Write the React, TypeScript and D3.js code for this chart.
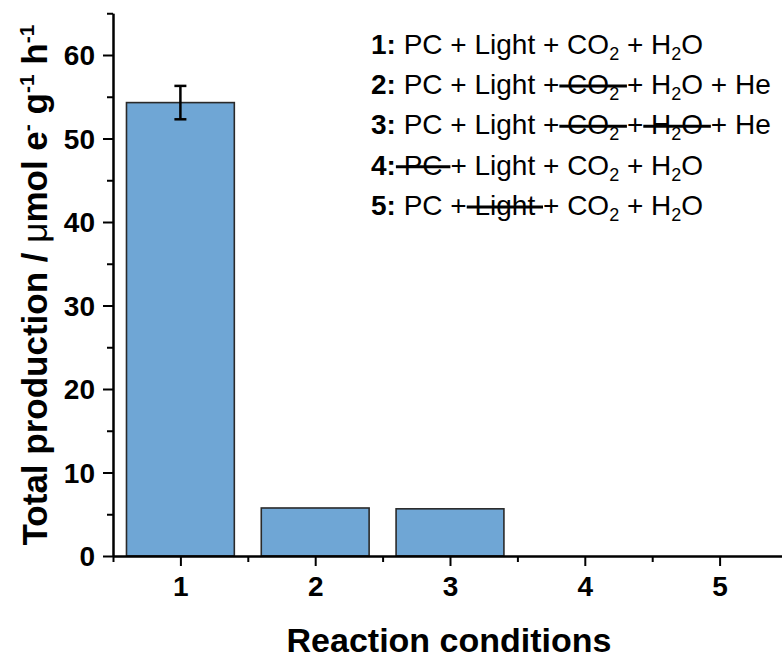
import React, { useEffect, useRef } from "react";
import * as d3 from "d3";

// Reaction conditions (x categories) and measured production
const categories = ["1", "2", "3", "4", "5"];
const production = [54.3, 5.75, 5.65, 0, 0];
const productionError = [2.0, 0, 0, 0, 0];
const yMajorTicks = [0, 10, 20, 30, 40, 50, 60];
const yMinorTicks = [5, 15, 25, 35, 45, 55, 65];
const xMinorTicks = [0.5, 1.5, 2.5, 3.5, 4.5, 5.5];

type Token = { text: string; bold?: boolean; sub?: boolean; strike?: boolean };

// Legend lines: condition number, reagents; struck-through parts are absent
const legendLines: Token[][] = [
  [
    { text: "1:", bold: true },
    { text: " PC + Light + CO" },
    { text: "2", sub: true },
    { text: " + H" },
    { text: "2", sub: true },
    { text: "O" },
  ],
  [
    { text: "2:", bold: true },
    { text: " PC + Light +" },
    { text: " CO", strike: true },
    { text: "2", sub: true, strike: true },
    { text: " ", strike: true },
    { text: "+ H" },
    { text: "2", sub: true },
    { text: "O + He" },
  ],
  [
    { text: "3:", bold: true },
    { text: " PC + Light +" },
    { text: " CO", strike: true },
    { text: "2", sub: true, strike: true },
    { text: " ", strike: true },
    { text: "+" },
    { text: " H", strike: true },
    { text: "2", sub: true, strike: true },
    { text: "O ", strike: true },
    { text: "+ He" },
  ],
  [
    { text: "4:", bold: true },
    { text: " PC ", strike: true },
    { text: "+ Light + CO" },
    { text: "2", sub: true },
    { text: " + H" },
    { text: "2", sub: true },
    { text: "O" },
  ],
  [
    { text: "5:", bold: true },
    { text: " PC +" },
    { text: " Light ", strike: true },
    { text: "+ CO" },
    { text: "2", sub: true },
    { text: " + H" },
    { text: "2", sub: true },
    { text: "O" },
  ],
];

const W = 782;
const H = 659;
const FONT = "Arial, 'Liberation Sans', Helvetica, sans-serif";

export default function App() {
  const ref = useRef<SVGSVGElement | null>(null);

  useEffect(() => {
    const svg = d3.select(ref.current);
    svg.selectAll("*").remove();

    const x = d3.scaleLinear().domain([0.5, 5.5]).range([113, 787]);
    const y = d3.scaleLinear().domain([0, 65]).range([556, 13.25]);
    const barHalf = 0.4;

    // Bars
    svg
      .append("g")
      .selectAll("rect")
      .data(production)
      .join("rect")
      .attr("x", (_, i) => x(i + 1 - barHalf))
      .attr("width", x(1 + barHalf) - x(1 - barHalf))
      .attr("y", (d) => y(d))
      .attr("height", (d) => y(0) - y(d))
      .attr("fill", "#6fa6d5")
      .attr("stroke", (d) => (d > 0 ? "#2a2a2a" : "none"))
      .attr("stroke-width", 1.6);

    // Error bars
    const eb = svg
      .append("g")
      .attr("stroke", "#000")
      .attr("stroke-width", 2.5)
      .selectAll("g")
      .data(production.map((v, i) => ({ v, e: productionError[i], i })).filter((d) => d.e > 0))
      .join("g");
    eb.append("line")
      .attr("x1", (d) => x(d.i + 1))
      .attr("x2", (d) => x(d.i + 1))
      .attr("y1", (d) => y(d.v + d.e))
      .attr("y2", (d) => y(d.v - d.e));
    eb.append("line")
      .attr("x1", (d) => x(d.i + 1) - 6)
      .attr("x2", (d) => x(d.i + 1) + 6)
      .attr("y1", (d) => y(d.v + d.e))
      .attr("y2", (d) => y(d.v + d.e));
    eb.append("line")
      .attr("x1", (d) => x(d.i + 1) - 6)
      .attr("x2", (d) => x(d.i + 1) + 6)
      .attr("y1", (d) => y(d.v - d.e))
      .attr("y2", (d) => y(d.v - d.e));

    const styleAxis = (g: d3.Selection<SVGGElement, unknown, null, undefined>) => {
      g.select(".domain").attr("stroke", "#000").attr("stroke-width", 2);
      g.selectAll(".tick line").attr("stroke", "#000").attr("stroke-width", 2);
      g.selectAll(".tick text")
        .attr("fill", "#000")
        .attr("font-family", FONT)
        .attr("font-weight", "bold")
        .attr("font-size", 28);
    };

    // Y axis: minor then major ticks
    const yMinor = svg
      .append("g")
      .attr("transform", `translate(${x(0.5)},0)`)
      .call(
        d3.axisLeft(y).tickValues(yMinorTicks).tickSize(6).tickSizeOuter(0).tickFormat(() => "")
      );
    styleAxis(yMinor as any);
    const yMajor = svg
      .append("g")
      .attr("transform", `translate(${x(0.5)},0)`)
      .call(
        d3
          .axisLeft(y)
          .tickValues(yMajorTicks)
          .tickSize(10)
          .tickSizeOuter(0)
          .tickPadding(8)
          .tickFormat((d) => String(d))
      );
    styleAxis(yMajor as any);
    yMajor.selectAll(".tick text").attr("dy", "0.35em");

    // X axis: minor then major ticks
    const xMinor = svg
      .append("g")
      .attr("transform", `translate(0,${y(0)})`)
      .call(
        d3.axisBottom(x).tickValues(xMinorTicks).tickSize(6).tickSizeOuter(0).tickFormat(() => "")
      );
    styleAxis(xMinor as any);
    const xMajor = svg
      .append("g")
      .attr("transform", `translate(0,${y(0)})`)
      .call(
        d3
          .axisBottom(x)
          .tickValues([1, 2, 3, 4, 5])
          .tickSize(10)
          .tickSizeOuter(0)
          .tickPadding(10)
          .tickFormat((d) => categories[(d as number) - 1])
      );
    styleAxis(xMajor as any);

    // Axis titles
    svg
      .append("text")
      .attr("x", 449)
      .attr("y", 652)
      .attr("text-anchor", "middle")
      .attr("font-family", FONT)
      .attr("font-weight", "bold")
      .attr("font-size", 34)
      .text("Reaction conditions");

    const yt = svg
      .append("text")
      .attr("transform", "translate(47,285) rotate(-90)")
      .attr("text-anchor", "middle")
      .attr("font-family", FONT)
      .attr("font-weight", "bold")
      .attr("font-size", 35)
      .style("white-space", "pre");
    const ySup = 13;
    yt.append("tspan").text("Total production / ");
    yt.append("tspan").attr("font-weight", "normal").text("\u03bc");
    yt.append("tspan").text("mol e");
    yt.append("tspan").attr("font-size", 21).attr("dy", -ySup).text("-");
    yt.append("tspan").attr("dy", ySup).text(" g");
    yt.append("tspan").attr("font-size", 21).attr("dy", -ySup).text("-1");
    yt.append("tspan").attr("dy", ySup).text(" h");
    yt.append("tspan").attr("font-size", 21).attr("dy", -ySup).text("-1");

    // Legend with struck-through reagents
    const legend = svg.append("g").attr("font-family", FONT).attr("fill", "#000");
    const lineStart = 371;
    const firstBaseline = 53.5;
    const lineGap = 40.4;
    legendLines.forEach((tokens, li) => {
      const base = firstBaseline + li * lineGap;
      let cx = lineStart;
      const spans: { x0: number; x1: number; strike: boolean }[] = [];
      tokens.forEach((tk) => {
        const t = legend
          .append("text")
          .attr("x", cx)
          .attr("y", base + (tk.sub ? 6 : 0))
          .attr("font-size", tk.sub ? 18 : 28)
          .attr("font-weight", tk.bold ? "bold" : "normal")
          .attr("xml:space", "preserve")
          .style("white-space", "pre")
          .text(tk.text);
        const w = (t.node() as SVGTextElement).getComputedTextLength();
        spans.push({ x0: cx, x1: cx + w, strike: !!tk.strike });
        cx += w;
      });
      // merge consecutive struck tokens into one line
      let start: number | null = null;
      spans.forEach((s, i) => {
        if (s.strike && start === null) start = s.x0;
        const next = spans[i + 1];
        if (s.strike && (!next || !next.strike) && start !== null) {
          legend
            .append("line")
            .attr("x1", start)
            .attr("x2", s.x1)
            .attr("y1", base - 8)
            .attr("y2", base - 8)
            .attr("stroke", "#000")
            .attr("stroke-width", 3);
          start = null;
        }
      });
    });
  }, []);

  return (
    <svg
      ref={ref}
      width={W}
      height={H}
      viewBox={`0 0 ${W} ${H}`}
      style={{ position: "absolute", left: 0, top: 0, background: "#fff" }}
    />
  );
}
